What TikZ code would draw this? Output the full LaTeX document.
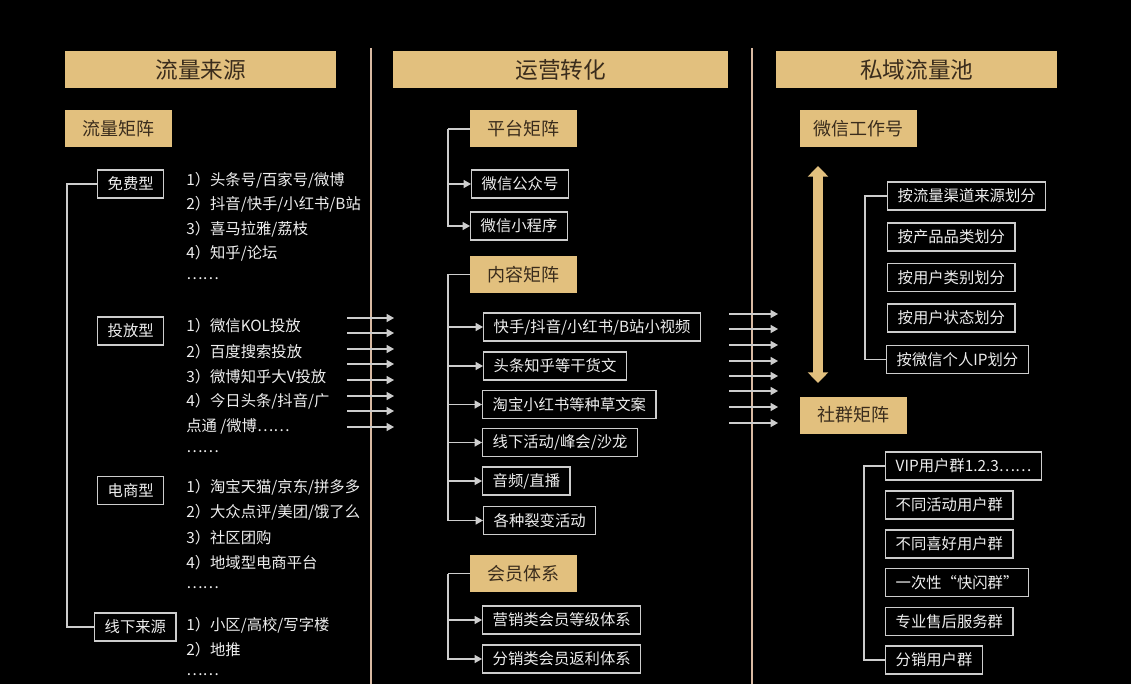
\documentclass[tikz,border=0pt]{standalone}
\usepackage{fontspec}
\setmainfont{Noto Sans CJK SC}
\usetikzlibrary{arrows.meta}
\definecolor{Tan}      {HTML}{E2C07E}
\definecolor{TanText}  {HTML}{3A2C1C}
\definecolor{FrameGray}{HTML}{CDCDCD}
\definecolor{InkWhite} {HTML}{EEEEEE}
\definecolor{Divider}  {HTML}{D8B9A2}
\tikzset{
  hdr/.style={
    fill=Tan, text=TanText, anchor=west, inner sep=0pt,
    minimum height=27.75pt, font=\fontsize{17}{20}\selectfont,
  },
  subhdr/.style={
    fill=Tan, text=TanText, anchor=west, inner sep=0pt,
    minimum width=80.25pt, minimum height=27.75pt,
    font=\fontsize{13.5}{16}\selectfont,
  },
  itembox/.style={
    draw=FrameGray, line width=1.1pt, text=InkWhite, anchor=west,
    minimum height=21pt, inner xsep=7.5pt, inner ysep=0pt,
    font=\fontsize{11.5}{14}\selectfont,
  },
  listtxt/.style={
    text=InkWhite, anchor=west, inner sep=0pt,
    font=\fontsize{11.5}{14}\selectfont,
  },
  link/.style={draw=FrameGray, line width=1pt},
  sig/.style={link, -{Triangle[length=5.5pt,width=6pt]}},
  bigarrow/.style={
    draw=Tan, line width=7.5pt,
    {Triangle[length=8pt,width=15pt]}-{Triangle[length=8pt,width=15pt]},
  },
  divider/.style={draw=Divider, line width=0.8pt},
}

\begin{document}
\begin{tikzpicture}[x=0.75pt, y=-0.75pt]

% ── Canvas ────────────────────────────────────────────────────────────────
\useasboundingbox (0,0) rectangle (1131,684);
\fill[black] (0,0) rectangle (1131,684);

% column dividers
\draw[divider] (371,48) -- (371,684);
\draw[divider] (752,48) -- (752,684);

% ── Headers ───────────────────────────────────────────────────────────────
\node[hdr, minimum width=203.25pt] (HDR1) at ( 65, 69.5) {流量来源};
\node[hdr, minimum width=251.25pt] (HDR2) at (393, 69.5) {运营转化};
\node[hdr, minimum width=210.75pt] (HDR3) at (776, 69.5) {私域流量池};

% ── Column 1: traffic sources ─────────────────────────────────────────────
\node[subhdr] (MAT) at (65, 128.5) {流量矩阵};

\node[itembox, minimum width=49.5pt]  (FREE) at (97, 184)   {免费型};
\node[itembox, minimum width=49.5pt]  (PAID) at (97, 331)   {投放型};
\node[itembox, minimum width=49.5pt]  (ECOM) at (97, 490.5) {电商型};
\node[itembox, minimum width=60.75pt] (OFFL) at (94, 627)   {线下来源};

\foreach \t [count=\i] in {1）头条号/百家号/微博, 2）抖音/快手/小红书/B站,
                           3）喜马拉雅/荔枝, 4）知乎/论坛, ……}
  \node[listtxt] (FREE-\i) at (186, {180+24.6*(\i-1)}) {\t};
\foreach \t [count=\i] in {1）微信KOL投放, 2）百度搜索投放, 3）微博知乎大V投放,
                           4）今日头条/抖音/广, 点通 /微博⋯⋯, ……}
  \node[listtxt] (PAID-\i) at (186, {326+25.2*(\i-1)}) {\t};
\foreach \t [count=\i] in {1）淘宝天猫/京东/拼多多, 2）大众点评/美团/饿了么,
                           3）社区团购, 4）地域型电商平台, ……}
  \node[listtxt] (ECOM-\i) at (186, {487+25.2*(\i-1)}) {\t};
\foreach \t [count=\i] in {1）小区/高校/写字楼, 2）地推, ……}
  \node[listtxt] (OFFL-\i) at (186, {625+25*(\i-1)}) {\t};

\draw[link] (FREE.west) -- ++(-30,0) |- (OFFL.west);

% col 1 -> col 2
\foreach \y [count=\i] in {318,333,349,364,380,396,411,427} {
  \coordinate (inA\i) at (347,\y);
  \coordinate (inB\i) at (394,\y);
  \draw[sig] (inA\i) -- (inB\i);
}

% ── Column 2: operations ──────────────────────────────────────────────────
\node[subhdr] (PLAT) at (470, 129) {平台矩阵};
\node[itembox] (GZH) at (471, 184) {微信公众号};
\node[itembox] (XCX) at (470, 226) {微信小程序};

\draw[link] (PLAT.west) -- ++(-22,0) coordinate (pb);
\draw[sig] (pb) |- (GZH.west);
\draw[sig] (pb) |- (XCX.west);

\node[subhdr] (CONT) at (470, 274.5) {内容矩阵};
\node[itembox] (C1) at (483, 327)   {快手/抖音/小红书/B站小视频};
\node[itembox] (C2) at (483, 366)   {头条知乎等干货文};
\node[itembox] (C3) at (482, 404.5) {淘宝小红书等种草文案};
\node[itembox] (C4) at (482, 442.5) {线下活动/峰会/沙龙};
\node[itembox] (C5) at (482, 481)   {音频/直播};
\node[itembox] (C6) at (483, 520.5) {各种裂变活动};

\draw[link] (CONT.west) -- ++(-22,0) coordinate (cb);
\foreach \n in {C1,C2,C3,C4,C5,C6}
  \draw[sig] (cb) |- (\n.west);

\node[subhdr] (MEMB) at (470, 573.5) {会员体系};
\node[itembox] (M1) at (482, 620) {营销类会员等级体系};
\node[itembox] (M2) at (482, 659) {分销类会员返利体系};

\draw[link] (MEMB.west) -- ++(-22,0) coordinate (mb);
\draw[sig] (mb) |- (M1.west);
\draw[sig] (mb) |- (M2.west);

% col 2 -> col 3
\foreach \y [count=\i] in {314,329,345,361,376,391,407,423} {
  \coordinate (outA\i) at (729,\y);
  \coordinate (outB\i) at (778,\y);
  \draw[sig] (outA\i) -- (outB\i);
}

% ── Column 3: private traffic pool ────────────────────────────────────────
\node[subhdr, minimum width=87.75pt] (WXWK) at (800, 129) {微信工作号};
\node[subhdr] (COMM) at (800, 415) {社群矩阵};

\coordinate (UP) at (818, 166);
\coordinate (DN) at (818, 383);
\draw[bigarrow] (UP) -- (DN);

\node[itembox] (S1) at (887, 196)   {按流量渠道来源划分};
\node[itembox] (S2) at (887, 237)   {按产品品类划分};
\node[itembox] (S3) at (887, 277.5) {按用户类别划分};
\node[itembox] (S4) at (887, 318)   {按用户状态划分};
\node[itembox] (S5) at (886, 359.5) {按微信个人IP划分};
\draw[link] (S1.west) -- ++(-22,0) |- (S5.west);

\node[itembox] (G1) at (885, 466)   {VIP用户群1.2.3⋯⋯};
\node[itembox] (G2) at (885, 505)   {不同活动用户群};
\node[itembox] (G3) at (885, 544)   {不同喜好用户群};
\node[itembox] (G4) at (885, 582.5) {一次性“快闪群”};
\node[itembox] (G5) at (885, 621.5) {专业售后服务群};
\node[itembox] (G6) at (885, 660)   {分销用户群};
\draw[link] (G1.west) -- ++(-21,0) |- (G6.west);

\end{tikzpicture}
\end{document}
